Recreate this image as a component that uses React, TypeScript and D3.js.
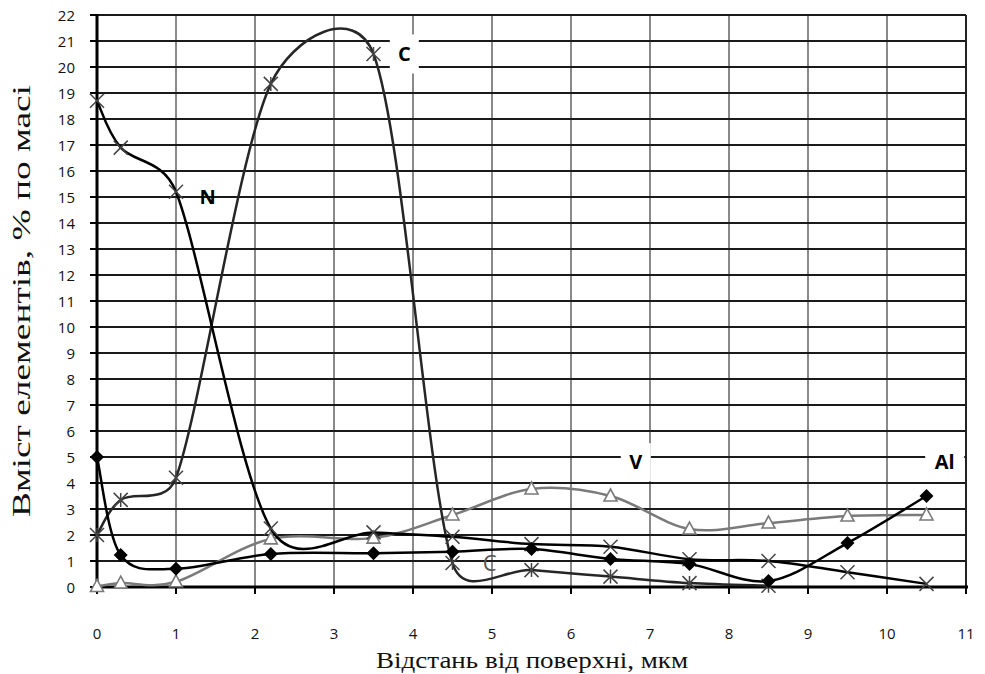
import React, { useRef, useEffect } from 'react';
import * as d3 from 'd3';

// depth from surface, um
const distance = [0, 0.3, 1, 2.2, 3.5, 4.5, 5.5, 6.5, 7.5, 8.5, 9.5, 10.5];
const nitrogen = [18.7, 16.9, 15.2, 2.25, 2.1, 1.93, 1.65, 1.55, 1.07, 1.0, 0.57, 0.12];
const carbon = [2.0, 3.35, 4.2, 19.35, 20.5, 0.92, 0.65, 0.4, 0.15, 0.05];
const aluminium = [5.0, 1.23, 0.7, 1.27, 1.3, 1.36, 1.46, 1.08, 0.88, 0.23, 1.69, 3.5];
const vanadium = [0.02, 0.15, 0.2, 1.85, 1.88, 2.77, 3.77, 3.5, 2.23, 2.46, 2.73, 2.77];
const xTicks = d3.range(0, 12);
const yTicks = d3.range(0, 23);

const W = 985, H = 674;
const margin = { left: 97, right: 19, top: 15, bottom: 87 };

// Excel-like smoothed line: bezier arms of 1/6 neighbour chord, capped at half the segment
function smoothPath(pts: [number, number][]) {
    const p = d3.path();
    p.moveTo(pts[0][0], pts[0][1]);
    for (let i = 0; i < pts.length - 1; i++) {
        const p0 = pts[Math.max(i - 1, 0)], p1 = pts[i], p2 = pts[i + 1], p3 = pts[Math.min(i + 2, pts.length - 1)];
        const seg = Math.hypot(p2[0] - p1[0], p2[1] - p1[1]);
        const arm = (a: number[], b: number[]) => {
            let tx = (b[0] - a[0]) / 6, ty = (b[1] - a[1]) / 6;
            const len = Math.hypot(tx, ty), lim = seg * 0.5;
            if (len > lim) { tx *= lim / len; ty *= lim / len; }
            return [tx, ty];
        };
        const t1 = arm(p0, p2), t2 = arm(p1, p3);
        p.bezierCurveTo(p1[0] + t1[0], p1[1] + t1[1], p2[0] - t2[0], p2[1] - t2[1], p2[0], p2[1]);
    }
    return p.toString();
}

const App = () => {
    const svgRef = useRef<SVGSVGElement>(null);

    useEffect(() => {
        const svg = d3.select(svgRef.current);
        svg.selectAll("*").remove();

        const x = d3.scaleLinear().domain([0, 11]).range([margin.left, W - margin.right]);
        const y = d3.scaleLinear().domain([0, 22]).range([H - margin.bottom, margin.top]);
        const tickFont = "'Open Sans', sans-serif";

        // grid
        svg.append("g").selectAll("line").data(xTicks.slice(1, 11)).enter().append("line")
            .attr("x1", d => x(d)).attr("x2", d => x(d)).attr("y1", y(0)).attr("y2", y(22))
            .attr("stroke", "#8a8a8a").attr("stroke-width", 2);
        svg.append("g").selectAll("line").data(yTicks.slice(1)).enter().append("line")
            .attr("x1", x(0)).attr("x2", x(11)).attr("y1", d => y(d)).attr("y2", d => y(d))
            .attr("stroke", "#1a1a1a").attr("stroke-width", 2);
        svg.append("line").attr("x1", x(11)).attr("x2", x(11)).attr("y1", y(0)).attr("y2", y(22))
            .attr("stroke", "#222").attr("stroke-width", 2);

        // label boxes (white behind labels cut the grid)
        const boxes = [
            { x: 3.89, y: 20.5, w: 29, h: 39, text: "C" },
            { x: 6.82, y: 4.8, w: 30, h: 38, text: "V" },
            { x: 10.73, y: 4.8, w: 39, h: 38, text: "Al" },
        ];
        svg.append("g").selectAll("rect").data(boxes).enter().append("rect")
            .attr("x", d => x(d.x) - d.w / 2).attr("y", d => y(d.y) - d.h / 2)
            .attr("width", d => d.w).attr("height", d => d.h).attr("fill", "white");

        // axes
        svg.append("g").selectAll("line").data(xTicks).enter().append("line")
            .attr("x1", d => x(d)).attr("x2", d => x(d)).attr("y1", y(0)).attr("y2", y(0) + 7)
            .attr("stroke", "#000").attr("stroke-width", 2);
        svg.append("g").selectAll("line").data(yTicks).enter().append("line")
            .attr("x1", x(0) - 7).attr("x2", x(0)).attr("y1", d => y(d)).attr("y2", d => y(d))
            .attr("stroke", "#000").attr("stroke-width", 2);
        svg.append("line").attr("x1", x(0)).attr("x2", x(11) + 2).attr("y1", y(0)).attr("y2", y(0))
            .attr("stroke", "#000").attr("stroke-width", 3);
        svg.append("line").attr("x1", x(0)).attr("x2", x(0)).attr("y1", y(0)).attr("y2", y(22) - 1)
            .attr("stroke", "#000").attr("stroke-width", 3);

        svg.append("g").selectAll("text").data(xTicks).enter().append("text")
            .attr("x", d => x(d)).attr("y", 639).attr("text-anchor", "middle")
            .attr("font-family", tickFont).attr("font-size", 15).attr("fill", "#111")
            .text(d => d);
        svg.append("g").selectAll("text").data(yTicks).enter().append("text")
            .attr("x", 75).attr("y", d => y(d) + 5.5).attr("text-anchor", "end")
            .attr("font-family", tickFont).attr("font-size", 15).attr("fill", "#111")
            .text(d => d);

        // series
        const series = [
            { values: vanadium, color: "#7a7a7a", marker: "triangle" },
            { values: carbon, color: "#262626", marker: "star" },
            { values: nitrogen, color: "#000", marker: "cross" },
            { values: aluminium, color: "#000", marker: "diamond" },
        ];
        series.forEach(s => {
            const pts = s.values.map((v, i) => [x(distance[i]), y(v)] as [number, number]);
            svg.append("path").attr("d", smoothPath(pts)).attr("fill", "none")
                .attr("stroke", s.color).attr("stroke-width", 2.5);
            const g = svg.append("g");
            pts.forEach(([px, py]) => {
                if (s.marker === "diamond") {
                    g.append("path").attr("d", `M${px},${py - 7}L${px + 7},${py}L${px},${py + 7}L${px - 7},${py}Z`)
                        .attr("fill", "#000");
                } else if (s.marker === "triangle") {
                    g.append("path").attr("d", `M${px},${py - 7}L${px + 6.5},${py + 5}L${px - 6.5},${py + 5}Z`)
                        .attr("fill", "white").attr("stroke", s.color).attr("stroke-width", 1.6);
                } else {
                    const c = 7;
                    let d = `M${px - c},${py - c}L${px + c},${py + c}M${px - c},${py + c}L${px + c},${py - c}`;
                    if (s.marker === "star") d += `M${px},${py - c}L${px},${py + c}`;
                    g.append("path").attr("d", d).attr("stroke", "#444").attr("stroke-width", 1.5);
                }
            });
        });

        // series labels
        const labelFont = "'Open Sans', sans-serif";
        svg.append("g").selectAll("text").data([...boxes, { x: 1.4, y: 15, text: "N" }]).enter().append("text")
            .attr("x", d => x(d.x)).attr("y", d => y(d.y) + 7).attr("text-anchor", "middle")
            .attr("font-family", labelFont).attr("font-weight", "bold").attr("font-size", 20)
            .attr("fill", "#000").text(d => d.text);
        svg.append("text").attr("x", x(4.97)).attr("y", y(0.93) + 8).attr("text-anchor", "middle")
            .attr("font-family", labelFont).attr("font-size", 22).attr("fill", "#555").text("C");

        // axis titles
        svg.append("text").attr("x", 532).attr("y", 668).attr("text-anchor", "middle")
            .attr("font-family", "'Liberation Serif', 'Times New Roman', serif").attr("font-size", 23)
            .attr("textLength", 312).attr("lengthAdjust", "spacingAndGlyphs").attr("fill", "#111")
            .text("Відстань від поверхні, мкм");
        svg.append("text").attr("transform", "translate(30,301) rotate(-90)").attr("text-anchor", "middle")
            .attr("font-family", "'Liberation Serif', 'Times New Roman', serif").attr("font-size", 25)
            .attr("textLength", 432).attr("lengthAdjust", "spacingAndGlyphs").attr("fill", "#111")
            .text("Вміст елементів, % по масі");
    }, []);

    return (
        <svg ref={svgRef} width={W} height={H}
            style={{ position: 'absolute', left: 0, top: 0, background: 'white' }}></svg>
    );
};

export default App;
